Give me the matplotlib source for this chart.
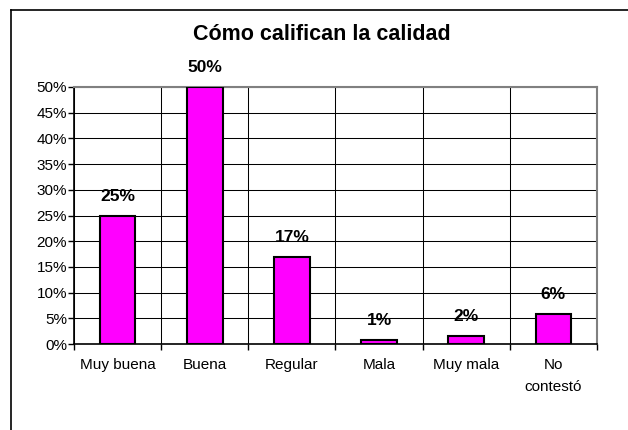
import numpy as np
import matplotlib as mpl
import matplotlib.pyplot as plt
from matplotlib.lines import Line2D

mpl.rcParams.update({
    "font.family": ["Liberation Sans", "DejaVu Sans"],
    "figure.dpi": 100,
})

categories = ["Muy buena", "Buena", "Regular", "Mala", "Muy mala", "No\ncontestó"]
values = [25, 50, 17, 0.8, 1.6, 5.8]
yticks = list(range(0, 55, 5))

C_BAR = "#FF00FF"
W, H = 628, 430

fig = plt.figure(figsize=(W / 100, H / 100))
ax = fig.add_axes([74 / W, 1 - 344 / H, (597 - 74) / W, (344 - 87) / H])

x = np.arange(len(categories))
ax.bar(x, values, width=0.41, color=C_BAR, edgecolor="black", linewidth=1.5, zorder=3)

# data labels above the bars
for xi, v in zip(x, values):
    ax.annotate(f"{round(v)}%", (xi, v), xytext=(0, 14),
                textcoords="offset points", ha="center", va="center",
                fontsize=12.5, fontweight="bold", zorder=4)

ax.set_xlim(-0.5, len(categories) - 0.5)
ax.set_ylim(0, 50)

# gridlines
ax.set_yticks(yticks)
ax.set_yticklabels([f"{t}%" for t in yticks])
ax.yaxis.grid(True, color="black", linewidth=0.75, zorder=1)
ax.set_xticks(np.arange(-0.5, len(categories), 1.0))
ax.set_xticklabels([])
ax.xaxis.grid(True, color="black", linewidth=0.75, zorder=1)
ax.set_xticks(x, minor=True)
ax.set_xticklabels(categories, minor=True, fontsize=11, linespacing=1.7)
ax.tick_params(axis="x", which="minor", length=0, pad=10)
ax.tick_params(axis="x", which="major", length=4, width=1, direction="out")
ax.tick_params(axis="y", length=4, width=1, direction="out", labelsize=11, pad=1)

for s in ["top", "right"]:
    ax.spines[s].set_color("#808080")
    ax.spines[s].set_linewidth(1.5)
for s in ["left", "bottom"]:
    ax.spines[s].set_color("black")
    ax.spines[s].set_linewidth(1.2)
ax.set_axisbelow(True)

fig.text(322 / W, 1 - 34 / H, "Cómo califican la calidad", ha="center", va="center",
         fontsize=15.5, fontweight="bold")

# outer chart frame (cut off at right and bottom)
fig.add_artist(Line2D([10.5 / W, 10.5 / W], [0, 1 - 9.5 / H], color="black", linewidth=1.2,
                      transform=fig.transFigure))
fig.add_artist(Line2D([10.5 / W, 1], [1 - 9.5 / H, 1 - 9.5 / H], color="black", linewidth=1.2,
                      transform=fig.transFigure))

fig.savefig("out.png", dpi=100)
